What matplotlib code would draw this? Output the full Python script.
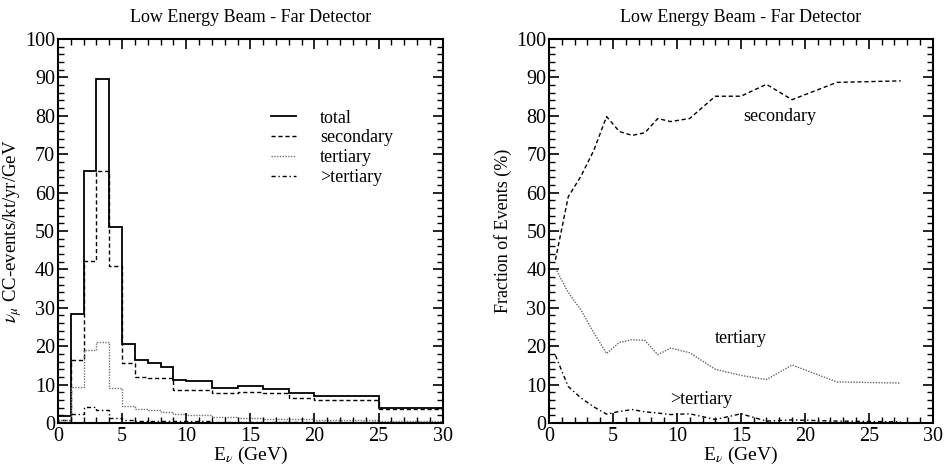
import matplotlib
matplotlib.use("Agg")
import matplotlib.pyplot as plt
import matplotlib.ticker as ticker
import numpy as np

plt.rcParams['font.family'] = ['Liberation Serif', 'DejaVu Serif']
plt.rcParams['mathtext.fontset'] = 'stix'

# bin edges (GeV)
edges = [0, 1, 2, 3, 4, 5, 6, 7, 8, 9, 10, 12, 14, 16, 18, 20, 25, 30]

# events / kt / yr / GeV
total     = [1.8, 28.4, 65.5, 89.7, 51.1, 20.6, 16.3, 15.5, 14.7, 11.2, 10.9, 9.2, 9.7, 8.8, 7.7, 7.0, 4.0]
secondary = [0.8, 16.4, 42.2, 65.5, 40.8, 15.7, 12.1, 11.8, 11.6, 8.7, 8.5, 7.8, 8.2, 7.7, 6.5, 6.1, 3.6]
tertiary  = [0.7, 9.4, 19.1, 21.0, 9.2, 4.4, 3.6, 3.4, 2.8, 2.4, 2.2, 1.5, 1.3, 1.1, 1.1, 0.7, 0.5]
gt_tert   = [0.3, 2.4, 4.2, 3.3, 1.2, 0.8, 0.6, 0.5, 0.4, 0.4, 0.4, 0.3, 0.3, 0.2, 0.2, 0.2, 0.1]

# fractions (%) at bin centres
centres    = [0.5, 1.5, 2.5, 3.5, 4.5, 5.5, 6.5, 7.5, 8.5, 9.5, 11, 13, 15, 17, 19, 22.5, 27.5]
frac_sec   = [42.5, 58.9, 64.3, 71.0, 79.8, 75.9, 74.9, 75.6, 79.3, 78.5, 79.3, 85.1, 85.1, 88.2, 84.2, 88.7, 89.1]
frac_tert  = [40.3, 34.0, 29.4, 23.5, 18.1, 21.0, 21.7, 21.5, 17.8, 19.5, 18.3, 14.0, 12.4, 11.3, 15.1, 10.7, 10.4]
frac_gt    = [17.6, 9.5, 6.5, 4.2, 2.3, 3.0, 3.5, 2.9, 2.6, 2.2, 2.4, 0.9, 2.4, 0.5, 0.8, 0.5, 0.3]

title = 'Low Energy Beam - Far Detector'

fig = plt.figure(figsize=(9.45, 4.7), dpi=100)
ax1 = fig.add_axes([0.0614, 0.1, 0.407, 0.817])
ax2 = fig.add_axes([0.581, 0.1, 0.406, 0.817])


def style(ax):
    ax.set_xlim(0, 30)
    ax.set_ylim(0, 100)
    ax.xaxis.set_major_locator(ticker.MultipleLocator(5))
    ax.xaxis.set_minor_locator(ticker.MultipleLocator(1))
    ax.yaxis.set_major_locator(ticker.MultipleLocator(10))
    ax.yaxis.set_minor_locator(ticker.MultipleLocator(2))
    ax.tick_params(which='both', direction='in', top=True, right=True, labelsize=14.5)
    ax.tick_params(axis='x', pad=3)
    ax.tick_params(axis='y', pad=2)
    ax.tick_params(which='major', length=7, width=1.2)
    ax.tick_params(which='minor', length=4, width=1.0)
    for s in ax.spines.values():
        s.set_linewidth(1.5)
    ax.set_title(title, fontsize=13, pad=12)
    ax.set_xlabel(r'E$_\nu$ (GeV)', fontsize=14, labelpad=-1)


# left: spectra
ax1.stairs(total, edges, color='black', lw=1.3, label='total')
ax1.stairs(secondary, edges, color='black', lw=1.0, ls=(0, (3, 2)), label='secondary')
ax1.stairs(tertiary, edges, color='0.45', lw=1.0, ls=(0, (1, 1)), label='tertiary')
ax1.stairs(gt_tert, edges, color='black', lw=1.0, ls=(0, (3, 2, 1, 2)), label='>tertiary')
style(ax1)
ax1.set_ylabel(r'$\nu_\mu$ CC-events/kt/yr/GeV', fontsize=13.5, labelpad=1)
ax1.legend(loc='upper left', bbox_to_anchor=(0.535, 0.835), frameon=False, fontsize=13,
           handlelength=1.4, handletextpad=1.3, labelspacing=0.16, borderaxespad=0)

# right: fractions
ax2.plot(centres, frac_sec, color='black', lw=1.0, ls=(0, (3, 2)))
ax2.plot(centres, frac_tert, color='0.4', lw=1.0, ls=(0, (1, 1)))
ax2.plot(centres, frac_gt, color='black', lw=1.0, ls=(0, (3, 2, 1, 2)))
style(ax2)
ax2.set_ylabel('Fraction of Events (%)', fontsize=13, labelpad=3)
ax2.text(15.2, 79.7, 'secondary', fontsize=13, va='center')
ax2.text(13.0, 21.9, 'tertiary', fontsize=13, va='center')
ax2.text(9.5, 6.0, '>tertiary', fontsize=13, va='center')

fig.savefig('out.png', dpi=100)
